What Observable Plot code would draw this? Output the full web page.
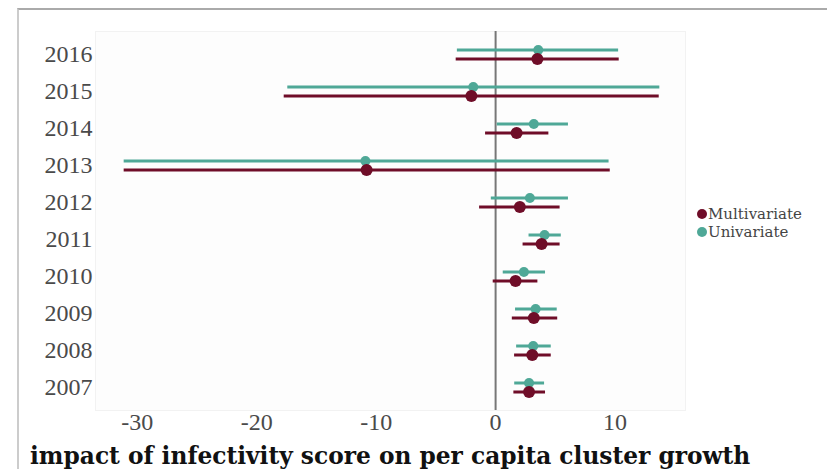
<!DOCTYPE html>
<html><head><meta charset="utf-8">
<script src="https://cdn.jsdelivr.net/npm/d3@7"></script>
<script src="https://cdn.jsdelivr.net/npm/@observablehq/plot@0.6"></script>
<style>
body{margin:0;background:#fff;width:827px;height:469px;overflow:hidden;position:relative;font-family:"Liberation Serif",serif;}
#frame{position:absolute;left:17px;top:8px;width:820px;height:470px;border-top:2px solid #aaa;border-left:2px solid #ccc;}
#chart{position:absolute;left:-2px;top:-2px;}
#title{position:absolute;left:11px;top:432px;font-weight:bold;font-size:23.3px;font-family:"DejaVu Serif",serif;color:#111;white-space:nowrap;}
#legend{position:absolute;left:678px;top:195px;font-size:15px;line-height:18px;font-family:"DejaVu Serif",serif;color:#444;letter-spacing:0px;}
#legend span.d{display:inline-block;width:10px;height:10px;border-radius:50%;margin-right:1px;vertical-align:0px;}
</style></head>
<body>
<div id="frame"><div id="chart"></div><div id="title"></div><div id="legend"></div></div>
<script>
const years = [2016, 2015, 2014, 2013, 2012, 2011, 2010, 2009, 2008, 2007];
const uniEst = [3.57, -1.87, 3.2, -10.9, 2.87, 4.1, 2.37, 3.35, 3.15, 2.8];
const uniLo  = [-3.2, -17.4, 0.14, -31.1, -0.36, 2.8, 0.64, 1.67, 1.76, 1.6];
const uniHi  = [10.3, 13.75, 6.1, 9.5, 6.1, 5.5, 4.18, 5.16, 4.66, 4.1];
const mulEst = [3.5, -2.03, 1.76, -10.8, 2.03, 3.85, 1.67, 3.2, 3.07, 2.8];
const mulLo  = [-3.3, -17.7, -0.84, -31.1, -1.34, 2.3, -0.2, 1.4, 1.59, 1.53];
const mulHi  = [10.35, 13.7, 4.46, 9.6, 5.4, 5.4, 3.54, 5.2, 4.66, 4.18];
const xTicks = [-30, -20, -10, 0, 10];
const seriesNames = ["Multivariate", "Univariate"];
const colors = {Multivariate: "#6f0d28", Univariate: "#4fa897"};
const titleText = "impact of infectivity score on per capita cluster growth";

const uni = years.map((y, i) => ({year: String(y), est: uniEst[i], lo: uniLo[i], hi: uniHi[i]}));
const mul = years.map((y, i) => ({year: String(y), est: mulEst[i], lo: mulLo[i], hi: mulHi[i]}));

const chart = Plot.plot({
  width: 810, height: 432,
  marginLeft: 78, marginRight: 142, marginTop: 23, marginBottom: 30,
  style: {fontFamily: "Liberation Serif, serif", fontSize: "24px", color: "#4a4a4a", background: "transparent"},
  x: {domain: [-33.5, 15.9], ticks: xTicks, tickSize: 0, tickPadding: 2, label: null, tickFormat: d => String(d)},
  y: {type: "point", domain: years.map(String), padding: 0.56, tickSize: 0, tickPadding: 3, label: null},
  marks: [
    Plot.frame({stroke: "#f2f2f2", fill: "#fdfdfd"}),
    Plot.ruleX([0], {stroke: "#777", strokeWidth: 2}),
    Plot.ruleY(uni, {y: "year", x1: "lo", x2: "hi", dy: -4.5, stroke: colors.Univariate, strokeWidth: 3}),
    Plot.ruleY(mul, {y: "year", x1: "lo", x2: "hi", dy: 4.5, stroke: colors.Multivariate, strokeWidth: 3}),
    Plot.dot(uni, {y: "year", x: "est", dy: -4.5, r: 5, fill: colors.Univariate}),
    Plot.dot(mul, {y: "year", x: "est", dy: 4.5, r: 6, fill: colors.Multivariate}),
  ]
});
document.getElementById("chart").appendChild(chart);
document.getElementById("title").textContent = titleText;
document.getElementById("legend").innerHTML = seriesNames.map(n =>
  `<div><span class="d" style="background:${colors[n]}"></span>${n}</div>`).join("");
</script>
</body></html>
